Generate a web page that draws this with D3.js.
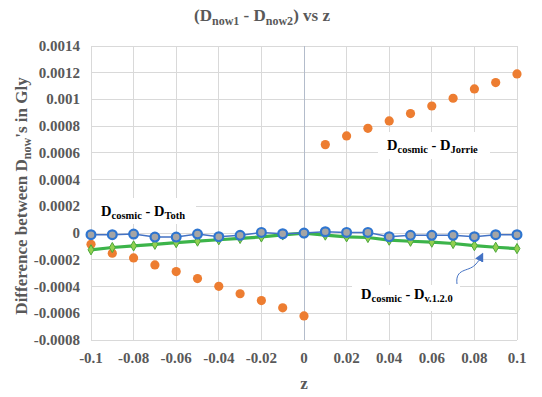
<!DOCTYPE html>
<html><head><meta charset="utf-8">
<script src="https://cdn.jsdelivr.net/npm/d3@7"></script>
<style>body{margin:0;background:#fff}svg{display:block}</style>
</head><body><svg id="c" width="542" height="397"></svg>
<script>
const zVals = [-0.1,-0.09,-0.08,-0.07,-0.06,-0.05,-0.04,-0.03,-0.02,-0.01,0,0.01,0.02,0.03,0.04,0.05,0.06,0.07,0.08,0.09,0.1];
const jorrie = [-0.000084,-0.00015,-0.000186,-0.000238,-0.000288,-0.00034,-0.000398,-0.000454,-0.000505,-0.000559,-0.00062,0.000662,0.000727,0.000784,0.000839,0.000894,0.000951,0.001009,0.001079,0.001126,0.001191];
const toth = [-0.000012,-0.000012,-0.000007,-0.00003,-0.00003,-0.000007,-0.000027,-0.000017,0.000005,-0.000005,0,0.00001,0.000005,0.000005,-0.000027,-0.000017,-0.000017,-0.000017,-0.000027,-0.000012,-0.000012];
const v120 = [-0.000125,-0.000108,-0.000096,-0.000084,-0.000072,-0.00006,-0.00005,-0.00004,-0.000029,-0.000014,0,-0.000015,-0.000028,-0.000033,-0.000053,-0.000061,-0.000068,-0.000078,-0.000094,-0.000106,-0.000116];
const xTicks = [-0.1,-0.08,-0.06,-0.04,-0.02,0,0.02,0.04,0.06,0.08,0.1];
const yTicks = [-0.0008,-0.0006,-0.0004,-0.0002,0,0.0002,0.0004,0.0006,0.0008,0.001,0.0012,0.0014];

const svg = d3.select("#c");
const FONT = "'Liberation Serif','Times New Roman',serif";
const x = d3.scaleLinear().domain([-0.1,0.1]).range([91,517]);
const y = d3.scaleLinear().domain([-0.0008,0.0014]).range([340,46]);

// gridlines
svg.append("g").selectAll("line").data(yTicks).join("line")
  .attr("x1",x(-0.1)).attr("x2",x(0.1)).attr("y1",d=>y(d)).attr("y2",d=>y(d))
  .attr("stroke","#d9d9d9").attr("stroke-width",1).attr("shape-rendering","crispEdges");
svg.append("g").selectAll("line").data(xTicks.filter(d=>d!==0)).join("line")
  .attr("x1",d=>x(d)).attr("x2",d=>x(d)).attr("y1",y(0.0014)).attr("y2",y(-0.0008))
  .attr("stroke","#d9d9d9").attr("stroke-width",1).attr("shape-rendering","crispEdges");
svg.append("line").attr("x1",x(0)).attr("x2",x(0)).attr("y1",y(0.0014)).attr("y2",y(-0.0008))
  .attr("stroke","#b3bccb").attr("stroke-width",1).attr("shape-rendering","crispEdges");

// tick labels
svg.append("g").selectAll("text").data(yTicks).join("text")
  .attr("x",80).attr("y",d=>y(d)+5).attr("text-anchor","end")
  .attr("font-family",FONT).attr("font-weight","bold").attr("font-size",15).attr("fill","#595959")
  .text(d=>d===0?"0":String(+d.toFixed(4)));
svg.append("g").selectAll("text").data(xTicks).join("text")
  .attr("x",d=>x(d)).attr("y",363).attr("text-anchor","middle")
  .attr("font-family",FONT).attr("font-weight","bold").attr("font-size",15).attr("fill","#595959")
  .text(d=>d===0?"0":String(+d.toFixed(2)));

// axis titles
svg.append("text").attr("x",x(0)).attr("y",389).attr("text-anchor","middle")
  .attr("font-family",FONT).attr("font-weight","bold").attr("font-size",17).attr("fill","#595959").text("z");
const yt = svg.append("text").attr("transform","translate(27,196) rotate(-90)").attr("text-anchor","middle")
  .attr("font-family",FONT).attr("font-weight","bold").attr("font-size",17).attr("fill","#595959");
yt.append("tspan").text("Difference between D");
yt.append("tspan").attr("font-size",12).attr("dy",4).text("now");
yt.append("tspan").attr("dy",-4).text("'s in Gly");

// title
const tt = svg.append("text").attr("x",262).attr("y",21).attr("text-anchor","middle")
  .attr("font-family",FONT).attr("font-weight","bold").attr("font-size",17).attr("fill","#595959");
tt.append("tspan").text("(D");
tt.append("tspan").attr("font-size",12).attr("dy",4).text("now1");
tt.append("tspan").attr("dy",-4).text(" - D");
tt.append("tspan").attr("font-size",12).attr("dy",4).text("now2");
tt.append("tspan").attr("dy",-4).text(") vs z");

// series
const idx = d3.range(zVals.length);
svg.append("g").selectAll("circle").data(idx).join("circle")
  .attr("cx",i=>x(zVals[i])).attr("cy",i=>y(jorrie[i])).attr("r",4.6).attr("fill","#ed7d31");

const lineG = d3.line().x(i=>x(zVals[i])).y(i=>y(v120[i]));
svg.append("path").attr("d",lineG(idx)).attr("fill","none").attr("stroke","#3cb44a").attr("stroke-width",3.2);
const sym = d3.symbol().type(d3.symbolDiamond).size(30);
svg.append("g").selectAll("path").data(idx).join("path")
  .attr("d",sym).attr("transform",i=>`translate(${x(zVals[i])},${y(v120[i])})`)
  .attr("fill","#92d050").attr("stroke","#4ca83a").attr("stroke-width",1);

const lineB = d3.line().x(i=>x(zVals[i])).y(i=>y(toth[i]));
svg.append("path").attr("d",lineB(idx)).attr("fill","none").attr("stroke","#4472c4").attr("stroke-width",1.5);
svg.append("g").selectAll("circle").data(idx).join("circle")
  .attr("cx",i=>x(zVals[i])).attr("cy",i=>y(toth[i])).attr("r",4.4)
  .attr("fill","#a5a5a5").attr("stroke","#2e75d0").attr("stroke-width",2.2);

// annotations
function label(xp, yp, sub, box){
  svg.append("rect").attr("x",box[0]).attr("y",box[1]).attr("width",box[2]).attr("height",box[3]).attr("fill","#fff");
  const t = svg.append("text").attr("x",xp).attr("y",yp)
    .attr("font-family",FONT).attr("font-weight","bold").attr("font-size",14.5).attr("fill","#000");
  t.append("tspan").text("D");
  t.append("tspan").attr("font-size",10.5).attr("dy",3).text("cosmic");
  t.append("tspan").attr("dy",-3).text(" - D");
  t.append("tspan").attr("font-size",10.5).attr("dy",3).text(sub);
}
label(101,216,"Toth",[92,198,104,26]);
label(387,150,"Jorrie",[378,132,112,27]);
label(361,299,"v.1.2.0",[352,285,108,26]);

// arrow
const defs = svg.append("defs");
defs.append("marker").attr("id","ah").attr("viewBox","0 0 10 10").attr("refX",7).attr("refY",5)
  .attr("markerWidth",9).attr("markerHeight",9).attr("markerUnits","userSpaceOnUse").attr("orient","auto")
  .append("path").attr("d","M0,0 L10,5 L0,10 z").attr("fill","#4472c4");
svg.append("path").attr("d","M457,284 C455,268 468,272 475,265 C478,262 480,259 482,255")
  .attr("fill","none").attr("stroke","#4472c4").attr("stroke-width",1).attr("marker-end","url(#ah)");
</script></body></html>
